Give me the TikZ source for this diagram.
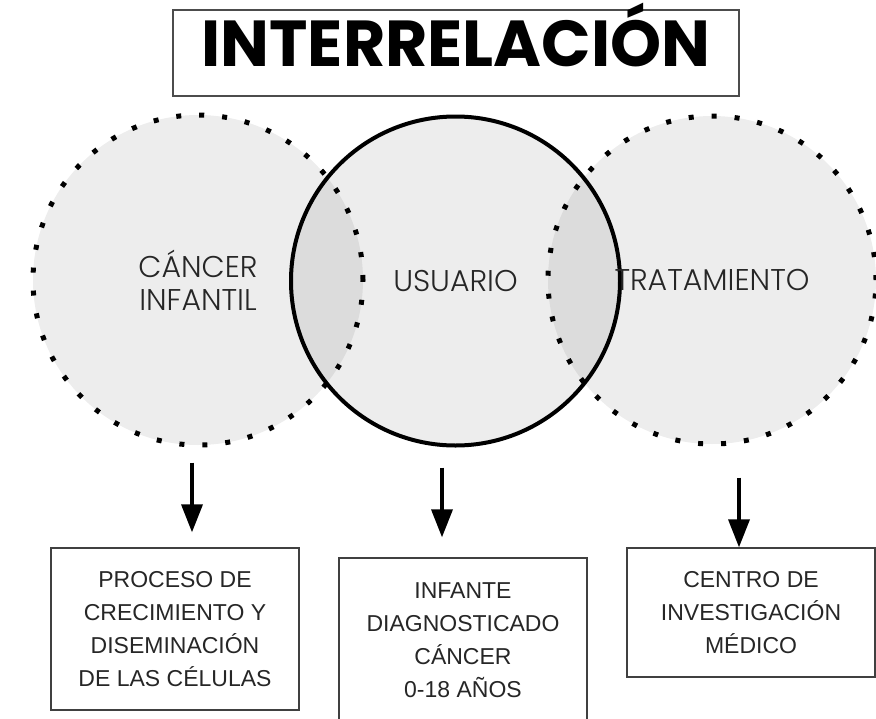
\documentclass[tikz,border=0pt]{standalone}
\usepackage{fontspec}
\setmainfont{Liberation Sans}
\newfontfamily\titlefont{Poppins}
\newfontfamily\ringfont{Poppins Light}
\usetikzlibrary{arrows.meta,positioning}

\begin{document}
\begin{tikzpicture}[
    x=1pt, y=-1pt,
    venn/.style={circle, inner sep=0pt, fill=black, fill opacity=0.07, text opacity=1, text=black!85, align=center, font=\ringfont\fontsize{30}{33}\selectfont},
    dotring/.style={venn, draw, line width=5pt, line cap=butt, dash pattern=on 5pt off 18pt},
    solidring/.style={venn, draw, line width=4pt},
    titlebox/.style={rectangle, draw=black!70, line width=1.3pt, inner xsep=0pt, inner ysep=0pt, minimum width=566pt, text height=56pt, text depth=30pt, font=\titlefont\bfseries\fontsize{65}{65}\selectfont},
    infobox/.style={rectangle, draw=black!75, line width=1.3pt, minimum width=248pt, align=center, text=black!85, font=\fontsize{23}{33}\selectfont},
    arrow/.style={-{Triangle[length=28pt, width=21pt]}, line width=3.5pt}
]
    \useasboundingbox (0,0) rectangle (876,718);

    % Title
    \node[titlebox, anchor=base] (titulo) at (456,66) {INTERRELACIÓN};

    % Venn circles
    \node[dotring, minimum size=330pt] (cancer) at (198,280) {CÁNCER\\INFANTIL};
    \node[solidring, minimum size=329pt] (usuario) at (455.5,281) {USUARIO};
    \node[dotring, minimum size=328pt] (tratamiento) at (712,280) {TRATAMIENTO};

    % Boxes below
    \node[infobox, minimum height=162pt] (proceso) at (175,629) {PROCESO DE\\CRECIMIENTO Y\\DISEMINACIÓN\\DE LAS CÉLULAS};
    \node[infobox, minimum height=164pt] (infante) at (463,640) {INFANTE\\DIAGNOSTICADO\\CÁNCER\\0-18 AÑOS};
    \node[infobox, minimum height=129pt] (centro) at (751,612.5) {CENTRO DE\\INVESTIGACIÓN\\MÉDICO};

    % Connections
    \draw[arrow] ([xshift=-6pt, yshift=-15pt]cancer.south) -- ([xshift=17pt, yshift=15pt]proceso.north);
    \draw[arrow] ([xshift=-13.5pt, yshift=-20pt]usuario.south) -- ([xshift=-21pt, yshift=20pt]infante.north);
    \draw[arrow] ([xshift=27pt, yshift=-31pt]tratamiento.south) -- ([xshift=-12pt]centro.north);
\end{tikzpicture}
\end{document}
